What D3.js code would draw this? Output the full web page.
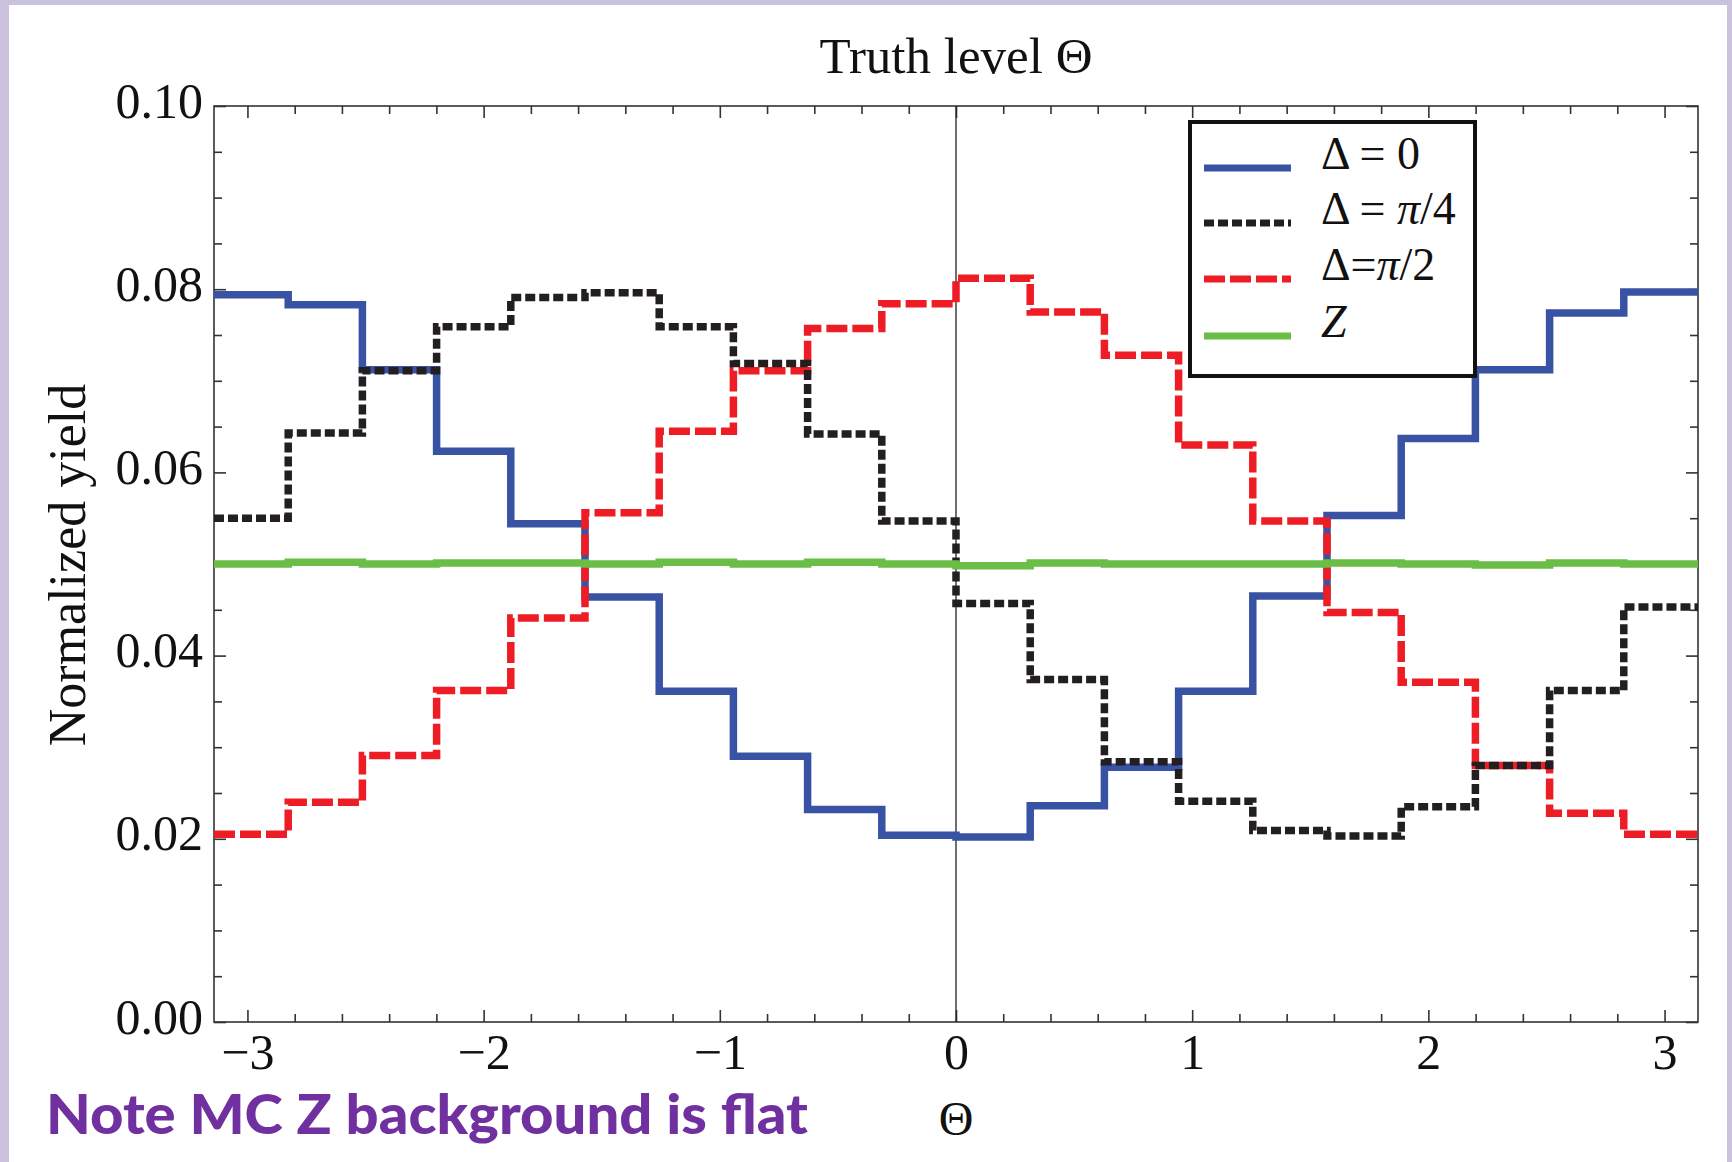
<!DOCTYPE html>
<html>
<head>
<meta charset="utf-8">
<script src="https://cdn.jsdelivr.net/npm/d3@7"></script>
<style>
  body { margin: 0; background: #fff; }
  svg text { font-family: "Liberation Serif", "DejaVu Serif", serif; fill: #111; }
</style>
</head>
<body>
<div id="container"></div>
<script>
var width = 1732,
    height = 1162;

// bin edges of Theta (20 bins from -pi to pi)
var thetaEdges = [-3.1416, -2.8274, -2.5133, -2.1991, -1.8850, -1.5708, -1.2566, -0.9425, -0.6283, -0.3142,
                  0, 0.3142, 0.6283, 0.9425, 1.2566, 1.5708, 1.8850, 2.1991, 2.5133, 2.8274, 3.1416];

var delta0 = [0.0794, 0.0783, 0.0712, 0.0623, 0.0544, 0.0464, 0.0361, 0.0290, 0.0232, 0.0204,
              0.0202, 0.0236, 0.0278, 0.0361, 0.0465, 0.0553, 0.0637, 0.0712, 0.0774, 0.0797];
var deltaPi4 = [0.0550, 0.0643, 0.0711, 0.0759, 0.0791, 0.0796, 0.0759, 0.0719, 0.0642, 0.0547,
                0.0457, 0.0374, 0.0284, 0.0241, 0.0209, 0.0203, 0.0235, 0.0280, 0.0362, 0.0453];
var deltaPi2 = [0.0205, 0.0240, 0.0291, 0.0362, 0.0441, 0.0556, 0.0645, 0.0711, 0.0757, 0.0784,
                0.0812, 0.0775, 0.0728, 0.0630, 0.0547, 0.0447, 0.0371, 0.0280, 0.0228, 0.0205];
var zBkg = [0.0500, 0.0502, 0.0500, 0.0501, 0.0501, 0.0500, 0.0502, 0.0500, 0.0502, 0.0500,
            0.0498, 0.0501, 0.0500, 0.0500, 0.0500, 0.0501, 0.0500, 0.0499, 0.0501, 0.0500];

var xMajor = [-3, -2, -1, 0, 1, 2, 3];
var yMajor = [0, 0.02, 0.04, 0.06, 0.08, 0.10];

var plot = {left: 214, right: 1698, top: 106, bottom: 1022};

var svg = d3.select("#container")
            .append("svg")
            .attr("width", width)
            .attr("height", height);

// lavender slide frame
svg.append("rect").attr("width", width).attr("height", height).attr("fill", "#cac2dd");
svg.append("rect").attr("x", 9).attr("y", 5).attr("width", width - 9 - 5).attr("height", height - 5)
   .attr("fill", "#fff");

var x = d3.scaleLinear().domain([-Math.PI, Math.PI]).range([plot.left, plot.right]);
var y = d3.scaleLinear().domain([0, 0.1]).range([plot.bottom, plot.top]);

var xMinor = d3.range(-15, 16).map(function(k){ return k / 5; })
               .filter(function(v){ return Math.abs(v - Math.round(v)) > 1e-6; });
var yMinor = d3.range(0, 21).filter(function(k){ return k % 4 != 0; })
               .map(function(k){ return k * 0.005; });

function styleAxis(g){
  g.select(".domain").remove();
  g.selectAll("line").attr("stroke", "#333").attr("stroke-width", 1.6);
}

// minor ticks on all four sides
svg.append("g").attr("transform", "translate(0," + plot.bottom + ")")
   .call(d3.axisBottom(x).tickValues(xMinor).tickSizeInner(-8).tickSizeOuter(0).tickFormat(""))
   .call(styleAxis);
svg.append("g").attr("transform", "translate(0," + plot.top + ")")
   .call(d3.axisTop(x).tickValues(xMinor).tickSizeInner(-8).tickSizeOuter(0).tickFormat(""))
   .call(styleAxis);
svg.append("g").attr("transform", "translate(" + plot.left + ",0)")
   .call(d3.axisLeft(y).tickValues(yMinor).tickSizeInner(-8).tickSizeOuter(0).tickFormat(""))
   .call(styleAxis);
svg.append("g").attr("transform", "translate(" + plot.right + ",0)")
   .call(d3.axisRight(y).tickValues(yMinor).tickSizeInner(-8).tickSizeOuter(0).tickFormat(""))
   .call(styleAxis);

// major ticks
var xAxis = svg.append("g").attr("transform", "translate(0," + plot.bottom + ")")
   .call(d3.axisBottom(x).tickValues(xMajor).tickSizeInner(-12).tickSizeOuter(0).tickPadding(10)
           .tickFormat(d3.format("d")))
   .call(styleAxis);
xAxis.selectAll("text").attr("font-size", 50).attr("fill", "#111")
     .style("font-family", "Liberation Serif").attr("dy", "0.74em");

svg.append("g").attr("transform", "translate(0," + plot.top + ")")
   .call(d3.axisTop(x).tickValues(xMajor).tickSizeInner(-12).tickSizeOuter(0).tickFormat(""))
   .call(styleAxis);

var yAxis = svg.append("g").attr("transform", "translate(" + plot.left + ",0)")
   .call(d3.axisLeft(y).tickValues(yMajor).tickSizeInner(-12).tickSizeOuter(0).tickPadding(11)
           .tickFormat(d3.format(".2f")))
   .call(styleAxis);
yAxis.selectAll("text").attr("font-size", 50).attr("fill", "#111")
     .style("font-family", "Liberation Serif").attr("dy", "0.22em");

svg.append("g").attr("transform", "translate(" + plot.right + ",0)")
   .call(d3.axisRight(y).tickValues(yMajor).tickSizeInner(-12).tickSizeOuter(0).tickFormat(""))
   .call(styleAxis);

// frame
svg.append("rect")
   .attr("x", plot.left).attr("y", plot.top)
   .attr("width", plot.right - plot.left).attr("height", plot.bottom - plot.top)
   .attr("fill", "none").attr("stroke", "#333").attr("stroke-width", 1.6);

// zero line
svg.append("line")
   .attr("x1", x(0)).attr("x2", x(0)).attr("y1", plot.top).attr("y2", plot.bottom)
   .attr("stroke", "#222").attr("stroke-width", 1.3);

// step histograms
var series = [
  {values: delta0,   color: "#3953a4", dash: null},
  {values: deltaPi2, color: "#ee1d25", dash: "21,5"},
  {values: deltaPi4, color: "#231f20", dash: "10,4"},
  {values: zBkg,     color: "#6abd45", dash: null}
];

var step = d3.line()
  .x(function(d){ return x(d[0]); })
  .y(function(d){ return y(d[1]); })
  .curve(d3.curveStepAfter);

function stepPoints(vals){
  var pts = vals.map(function(v, i){ return [thetaEdges[i], v]; });
  pts.push([thetaEdges[vals.length], vals[vals.length - 1]]);
  return pts;
}

var lines = svg.append("g");
series.forEach(function(s){
  lines.append("path")
    .attr("d", step(stepPoints(s.values)))
    .attr("fill", "none")
    .attr("stroke", s.color)
    .attr("stroke-width", 7.5)
    .attr("stroke-dasharray", s.dash)
    .attr("stroke-linejoin", "miter");
});

// legend
var legendOrder = [series[0], series[2], series[1], series[3]];
var key = svg.append("g").attr("id", "legend");
key.append("rect")
   .attr("x", 1190).attr("y", 122).attr("width", 285).attr("height", 254)
   .attr("fill", "#fff").attr("stroke", "#111").attr("stroke-width", 4);

var legendY = [168, 223, 279, 336];
legendOrder.forEach(function(s, i){
  key.append("line")
     .attr("x1", 1204).attr("x2", 1291)
     .attr("y1", legendY[i]).attr("y2", legendY[i])
     .attr("stroke", s.color).attr("stroke-width", 7)
     .attr("stroke-dasharray", s.dash);
});

function legendText(i, parts){
  var t = key.append("text").attr("x", 1321).attr("y", legendY[i] + 1).attr("font-size", 46);
  parts.forEach(function(p){
    t.append("tspan").text(p[0]).attr("font-style", p[1] ? "italic" : "normal");
  });
}
legendText(0, [["Δ = 0", false]]);
legendText(1, [["Δ = ", false], ["π", true], ["/4", false]]);
legendText(2, [["Δ=", false], ["π", true], ["/2", false]]);
legendText(3, [["Z", true]]);

// titles
svg.append("text")
   .attr("x", x(0)).attr("y", 73)
   .attr("text-anchor", "middle").attr("font-size", 51)
   .text("Truth level Θ");

svg.append("text")
   .attr("transform", "translate(85," + ((plot.top + plot.bottom) / 2 + 1) + ") rotate(-90)")
   .attr("text-anchor", "middle").attr("font-size", 52)
   .text("Normalized yield");

svg.append("text")
   .attr("x", x(0)).attr("y", 1135)
   .attr("text-anchor", "middle").attr("font-size", 48)
   .text("Θ");

svg.append("text")
   .attr("x", 46).attr("y", 1134)
   .style("font-family", "Lato, 'Open Sans', sans-serif")
   .attr("font-weight", "900").attr("font-size", 56)
   .attr("textLength", 762).attr("lengthAdjust", "spacingAndGlyphs")
   .style("fill", "#7030a0")
   .text("Note MC Z background is flat");
</script>
</body>
</html>
